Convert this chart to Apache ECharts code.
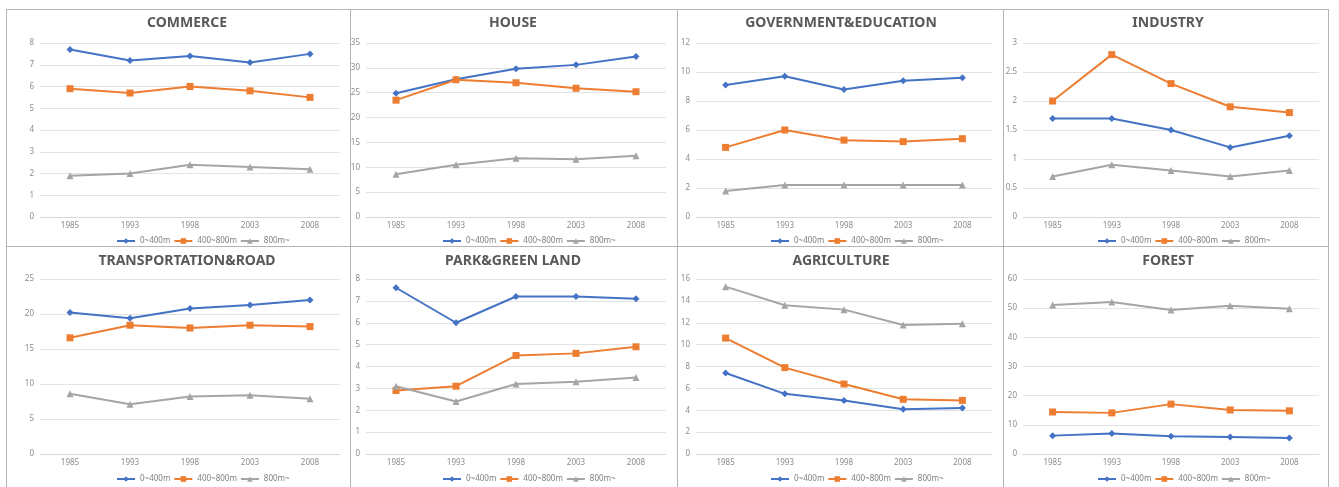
<!DOCTYPE html>
<html>
<head>
<meta charset="utf-8">
<script src="https://cdn.jsdelivr.net/npm/echarts@6/dist/echarts.min.js"></script>
<style>
  html, body { margin: 0; padding: 0; background: #fff; }
  #chart { width: 1339px; height: 487px; }
</style>
</head>
<body>
<div id="chart"></div>
<script>
  // categories and series names
  var years = ['1985', '1993', '1998', '2003', '2008']
  var seriesNames = ['0~400m', '400~800m', '800m~']

  // panel titles
  var titles = ['COMMERCE', 'HOUSE', 'GOVERNMENT&EDUCATION', 'INDUSTRY',
    'TRANSPORTATION&ROAD', 'PARK&GREEN LAND', 'AGRICULTURE', 'FOREST']

  // y axis max / interval for each panel
  var yMax = [8, 35, 12, 3, 25, 8, 16, 60]
  var yStep = [1, 5, 2, 0.5, 5, 1, 2, 10]

  // values: [0~400m, 400~800m, 800m~]
  var commerce = [[7.7, 7.2, 7.4, 7.1, 7.5], [5.9, 5.7, 6.0, 5.8, 5.5], [1.9, 2.0, 2.4, 2.3, 2.2]]
  var house = [[24.9, 27.7, 29.8, 30.6, 32.3], [23.5, 27.6, 27.0, 25.9, 25.2], [8.6, 10.5, 11.8, 11.6, 12.3]]
  var government = [[9.1, 9.7, 8.8, 9.4, 9.6], [4.8, 6.0, 5.3, 5.2, 5.4], [1.8, 2.2, 2.2, 2.2, 2.2]]
  var industry = [[1.7, 1.7, 1.5, 1.2, 1.4], [2.0, 2.8, 2.3, 1.9, 1.8], [0.7, 0.9, 0.8, 0.7, 0.8]]
  var transport = [[20.2, 19.4, 20.8, 21.3, 22.0], [16.6, 18.4, 18.0, 18.4, 18.2], [8.6, 7.1, 8.2, 8.4, 7.9]]
  var park = [[7.6, 6.0, 7.2, 7.2, 7.1], [2.9, 3.1, 4.5, 4.6, 4.9], [3.1, 2.4, 3.2, 3.3, 3.5]]
  var agriculture = [[7.4, 5.5, 4.9, 4.1, 4.2], [10.6, 7.9, 6.4, 5.0, 4.9], [15.3, 13.6, 13.2, 11.8, 11.9]]
  var forest = [[6.3, 7.0, 6.1, 5.8, 5.5], [14.4, 14.1, 17.1, 15.1, 14.8], [51.1, 52.1, 49.4, 50.8, 49.8]]

  var panels = [commerce, house, government, industry, transport, park, agriculture, forest]

  var colors = ['#4472C4', '#ED7D31', '#A5A5A5']
  var symbols = ['diamond', 'rect', 'triangle']
  var symbolSizes = [7, 7, 7]

  // layout of the 2x4 panels (px)
  var plotLeft = [40, 366, 696, 1023]
  var plotRight = [340, 666, 992, 1319]
  var rowTop = [43, 279]
  var rowHeight = [174, 175]
  var titleY = [16, 254]
  var legendY = [237, 475]
  var borderX = [6, 350, 677, 1003, 1328]
  var borderY = [9, 246, 490]

  var chart = echarts.init(document.getElementById('chart'), null, {renderer: 'canvas'})

  var option = {
    animation: false,
    backgroundColor: '#fff',
    textStyle: {fontFamily: 'Noto Sans, DejaVu Sans, sans-serif'},
    title: [],
    legend: [],
    grid: [],
    xAxis: [],
    yAxis: [],
    series: [],
    graphic: []
  }

  panels.forEach(function (data, i) {
    var row = Math.floor(i / 4)
    var col = i % 4
    var cx = (plotLeft[col] + plotRight[col]) / 2

    option.title.push({
      text: titles[i],
      left: cx - 3,
      top: titleY[row],
      textAlign: 'center',
      padding: 0,
      textStyle: {fontSize: 14, fontWeight: 'bold', color: '#595959'}
    })

    option.legend.push({
      data: seriesNames,
      left: cx - 74,
      top: legendY[row],
      padding: 0,
      itemGap: 3,
      itemWidth: 18,
      itemHeight: 7,
      textStyle: {fontSize: 8, color: '#7f7f7f'}
    })

    option.grid.push({
      left: plotLeft[col],
      top: rowTop[row],
      width: plotRight[col] - plotLeft[col],
      height: rowHeight[row],
      containLabel: false
    })

    option.xAxis.push({
      type: 'category',
      gridIndex: i,
      data: years,
      boundaryGap: true,
      axisLine: {lineStyle: {color: '#d9d9d9'}},
      axisTick: {show: false},
      axisLabel: {fontSize: 8, color: '#8c8c8c', margin: 5}
    })

    option.yAxis.push({
      type: 'value',
      gridIndex: i,
      min: 0,
      max: yMax[i],
      interval: yStep[i],
      axisLine: {show: false},
      axisTick: {show: false},
      axisLabel: {fontSize: 8, color: '#8c8c8c', margin: 6},
      splitLine: {lineStyle: {color: '#e3e3e3'}}
    })

    data.forEach(function (values, k) {
      option.series.push({
        name: seriesNames[k],
        type: 'line',
        xAxisIndex: i,
        yAxisIndex: i,
        data: values,
        symbol: symbols[k],
        symbolSize: symbolSizes[k],
        lineStyle: {width: 2, color: colors[k]},
        itemStyle: {color: colors[k]}
      })
    })
  })

  // panel borders
  borderX.forEach(function (x) {
    option.graphic.push({
      type: 'line',
      shape: {x1: x + 0.5, y1: borderY[0], x2: x + 0.5, y2: borderY[2]},
      style: {stroke: '#b4b4b4', lineWidth: 1}
    })
  })
  borderY.slice(0, 2).forEach(function (y) {
    option.graphic.push({
      type: 'line',
      shape: {x1: borderX[0], y1: y + 0.5, x2: borderX[4], y2: y + 0.5},
      style: {stroke: '#b4b4b4', lineWidth: 1}
    })
  })

  chart.setOption(option)
</script>
</body>
</html>
